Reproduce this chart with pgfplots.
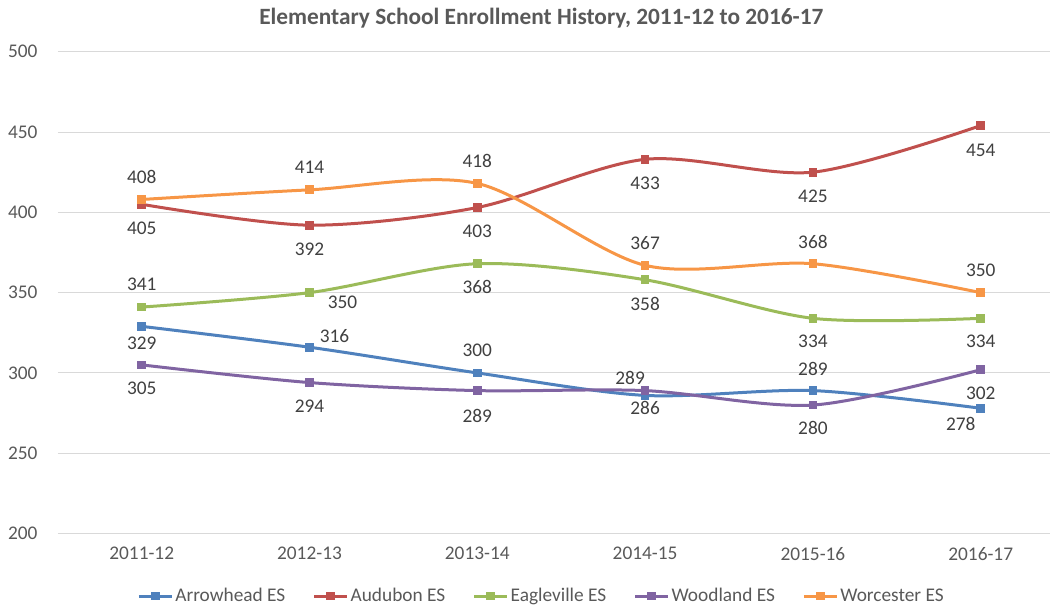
\documentclass[border=0pt]{standalone}
\usepackage{pgfplots}
\usepackage{pgfplotstable}
\pgfplotsset{compat=1.18}
\usepackage{fontspec}
\setmainfont{Carlito}
\definecolor{cA}{HTML}{4F81BD}
\definecolor{cB}{HTML}{C0504D}
\definecolor{cC}{HTML}{9BBB59}
\definecolor{cD}{HTML}{8064A2}
\definecolor{cE}{HTML}{F79646}
\definecolor{txt}{HTML}{595959}
\definecolor{lbl}{HTML}{404040}
\definecolor{gridc}{HTML}{D9D9D9}

\pgfplotsset{lbls/.style={
  forget plot, draw=none, mark=none,
  nodes near coords,
  visualization depends on={\thisrow{dx} \as \dxv},
  visualization depends on={\thisrow{dy} \as \dyv},
  every node near coord/.append style={font=\fontsize{14.5}{17}\selectfont, text=lbl, anchor=center, inner sep=0pt, xshift=\dxv*0.75pt, yshift=\dyv*0.75pt},
}}

\begin{document}
\begin{tikzpicture}
\path[use as bounding box] (0,0) rectangle (787.5pt,455.25pt);
\node[font=\bfseries\fontsize{17.5}{20}\selectfont, text=txt] at (406pt,441.75pt) {Elementary School Enrollment History, 2011-12 to 2016-17};
\begin{axis}[
  at={(43.35pt,55.1pt)}, anchor=south west, scale only axis,
  width=744.15pt, height=361.35pt,
  xmin=-0.5, xmax=5.413, ymin=200, ymax=500,
  ytick={200,250,...,500},
  xtick={0,...,5},
  xticklabels={2011-12,2012-13,2013-14,2014-15,2015-16,2016-17},
  axis line style={draw=none},
  major tick length=0pt,
  ymajorgrids,
  grid style={draw=gridc, line width=0.75pt},
  /pgf/number format/assume math mode=true,
  tick label style={font=\fontsize{14.5}{17}\selectfont, text=txt},
  yticklabel style={inner sep=0pt, xshift=-15pt},
  xticklabel style={inner sep=0pt, yshift=-10pt},
  clip=false,
  every axis plot/.append style={line width=2.25pt, smooth, mark=square*, mark size=2.9pt, mark options={solid, line width=0pt}},
  legend columns=5,
  legend cell align=left,
  legend style={draw=none, fill=none, at={(0.4875,-0.1297)}, anchor=center, font=\fontsize{14.5}{17}\selectfont, text=txt,
    nodes={inner xsep=1.5pt},
    /tikz/every even column/.append style={column sep=19pt},
    /tikz/every odd column/.append style={column sep=0pt}},
  legend image code/.code={\draw[mark repeat=2, mark phase=2, #1] plot coordinates {(0pt,0pt) (12.4pt,0pt) (24.75pt,0pt)};},
]
\addplot[color=cA] coordinates {(0,329) (1,316) (2,300) (3,286) (4,289) (5,278)};
\addlegendentry{Arrowhead ES}
\addplot[color=cB] coordinates {(0,405) (1,392) (2,403) (3,433) (4,425) (5,454)};
\addlegendentry{Audubon ES}
\addplot[color=cC] coordinates {(0,341) (1,350) (2,368) (3,358) (4,334) (5,334)};
\addlegendentry{Eagleville ES}
\addplot[color=cD] coordinates {(0,305) (1,294) (2,289) (3,289) (4,280) (5,302)};
\addlegendentry{Woodland ES}
\addplot[color=cE] coordinates {(0,408) (1,414) (2,418) (3,367) (4,368) (5,350)};
\addlegendentry{Worcester ES}
\addplot[lbls] table[x=x, y=y] {
x y dx dy
0 329 0 -17
1 316 25 11
2 300 0 23
3 286 0 -13
4 289 0 22
5 278 -20 -16
};
\addplot[lbls] table[x=x, y=y] {
x y dx dy
0 405 0 -24
1 392 0 -24
2 403 0 -24
3 433 0 -24
4 425 0 -24
5 454 0 -25
};
\addplot[lbls] table[x=x, y=y] {
x y dx dy
0 341 0 23
1 350 33 -10
2 368 0 -23
3 358 0 -24
4 334 0 -23
5 334 0 -23
};
\addplot[lbls] table[x=x, y=y] {
x y dx dy
0 305 0 -23
1 294 0 -24
2 289 0 -25
3 289 -15 13
4 280 0 -23
5 302 0 -24
};
\addplot[lbls] table[x=x, y=y] {
x y dx dy
0 408 0 23
1 414 0 23
2 418 0 22
3 367 0 22
4 368 0 22
5 350 0 22
};
\end{axis}
\end{tikzpicture}
\end{document}
